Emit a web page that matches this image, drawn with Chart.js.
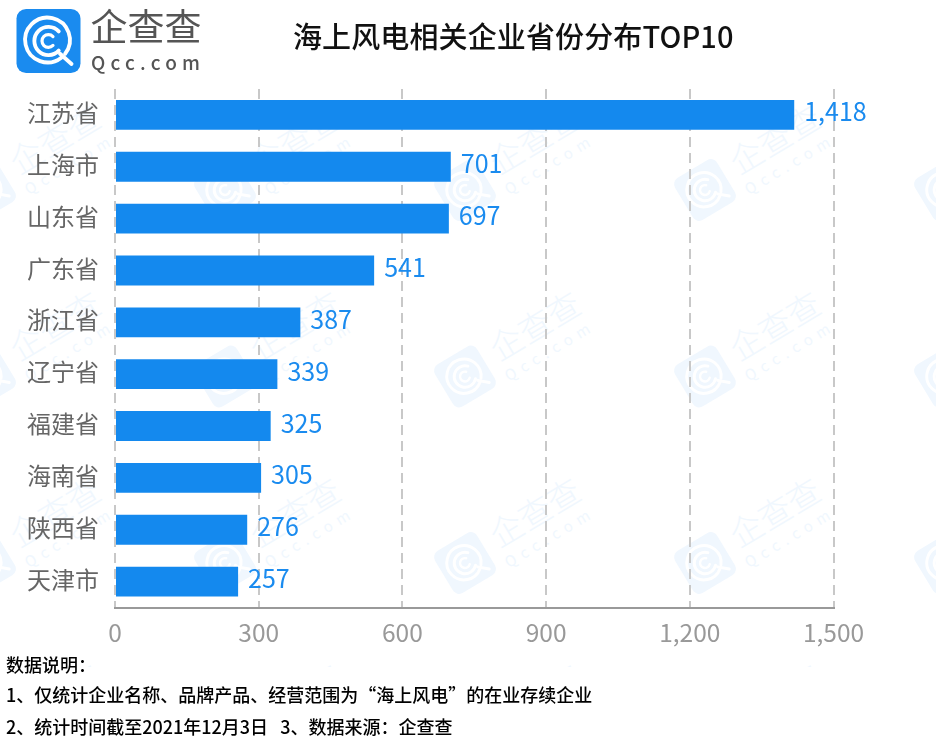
<!DOCTYPE html>
<html lang="zh"><head><meta charset="utf-8">
<script src="https://cdn.jsdelivr.net/npm/chart.js@4"></script>
<style>
html,body{margin:0;padding:0;background:#fff;width:936px;height:737px;overflow:hidden}
#wrap{position:relative;width:936px;height:737px;font-family:"Noto Sans CJK SC",sans-serif}
#bg,#logo{position:absolute;left:0;top:0}
canvas{position:absolute;left:0;top:0}
.t{position:absolute;white-space:nowrap;color:#000;line-height:1}
#title{left:293px;top:21px;font-size:29px;font-weight:500;color:#111;letter-spacing:.12px}
.n{left:6px;font-size:18px;font-weight:500}
</style></head><body>
<div id="wrap">
<svg id="bg" width="936" height="737" viewBox="0 0 936 737"></svg>
<canvas id="c" width="936" height="737"></canvas>
<svg id="logo" width="936" height="90" viewBox="0 0 936 90"></svg>
<div class="t" id="title">海上风电相关企业省份分布TOP10</div>
<div class="t n" style="top:655px">数据说明：</div>
<div class="t n" style="top:685px">1、仅统计企业名称、品牌产品、经营范围为“海上风电”的在业存续企业</div>
<div class="t n" style="top:717px">2、统计时间截至2021年12月3日&nbsp;&nbsp;&nbsp;3、数据来源：企查查</div>
</div>
<script>
const categories = ["江苏省","上海市","山东省","广东省","浙江省","辽宁省","福建省","海南省","陕西省","天津市"];
const companyCounts = [1418,701,697,541,387,339,325,305,276,257];
const axisMax = 1500;
const axisStep = 300;

function iconMarkup(size, bg, ring){
  const s = size/100;
  return `<g transform="scale(${s})"><rect x="-50" y="-50" width="100" height="100" rx="15" fill="${bg}"/>
  <g fill="none" stroke="${ring}" stroke-linecap="round">
  <path d="M20 26 A35 35 0 1 1 26 20" stroke-width="6"/>
  <path d="M18 20 L36 36" stroke-width="6"/>
  <path d="M16 -15 A22 22 0 1 0 16 15" stroke-width="6"/>
  <path d="M7 -7 A10 10 0 1 0 7 7" stroke-width="5"/></g></g>`;
}
const F = '"Noto Sans CJK SC",sans-serif';
let wm = '<defs><clipPath id="wc"><rect x="0" y="88" width="936" height="579"/></clipPath></defs><g clip-path="url(#wc)">';
[-15,225,465,705,945].forEach(x=>{[190,376.5,563,749.5].forEach(y=>{
  wm += `<g transform="translate(${x} ${y}) rotate(-31)">${iconMarkup(49,'#f0f7fe','#fff')}
  <text x="86" y="5" text-anchor="middle" font-family='${F}' font-size="33" font-weight="300" fill="#f0f7fe">企查查</text>
  <text x="86" y="27" text-anchor="middle" font-family='${F}' font-size="15" letter-spacing="6" fill="#f0f7fe">Qcc.com</text></g>`;
});});
document.getElementById('bg').innerHTML = wm + '</g>';
document.getElementById('logo').innerHTML =
 `<g transform="translate(48.5 41)">${iconMarkup(64,'#1a8bef','#fff')}</g>
  <text x="146" y="41" text-anchor="middle" font-family='${F}' font-size="37" font-weight="400" fill="#555">企查查</text>
  <text x="91" y="70" font-family='${F}' font-size="19" font-weight="500" letter-spacing="5.2" fill="#555">Qcc.com</text>`;

const valueLabels = {
  id:'valueLabels',
  afterDatasetsDraw(chart){
    const ctx = chart.ctx, meta = chart.getDatasetMeta(0);
    ctx.save();
    ctx.font = '25px '+F; ctx.fillStyle = '#1a8bef';
    ctx.textAlign='left'; ctx.textBaseline='middle';
    meta.data.forEach((bar,i)=>ctx.fillText(companyCounts[i].toLocaleString('en-US'), bar.x+10, bar.y-3));
    ctx.restore();
  }
};
new Chart(document.getElementById('c'),{
  type:'bar',
  data:{labels:categories,datasets:[{data:companyCounts,backgroundColor:'#1489ee',borderWidth:0,barPercentage:0.575,categoryPercentage:1}]},
  plugins:[valueLabels],
  options:{
    indexAxis:'y',responsive:false,animation:false,devicePixelRatio:1,
    layout:{padding:{top:89,right:102.5,left:0,bottom:0}},
    plugins:{legend:{display:false},tooltip:{enabled:false},title:{display:false}},
    scales:{
      x:{min:0,max:axisMax,
        ticks:{stepSize:axisStep,padding:10,color:'#999',font:{family:F,size:24.5},maxRotation:0,
               callback:v=>v.toLocaleString('en-US')},
        grid:{color:'#c8c8c8',lineWidth:2,drawTicks:false},
        border:{color:'#999',width:2,dash:[10,6]},
        afterFit(s){s.height=129.5;}},
      y:{ticks:{padding:16,labelOffset:-2,color:'#666',font:{family:F,size:24}},
        grid:{display:false,drawTicks:false},border:{display:false},
        afterFit(s){s.width=115;}}
    }
  }
});
</script></body></html>
